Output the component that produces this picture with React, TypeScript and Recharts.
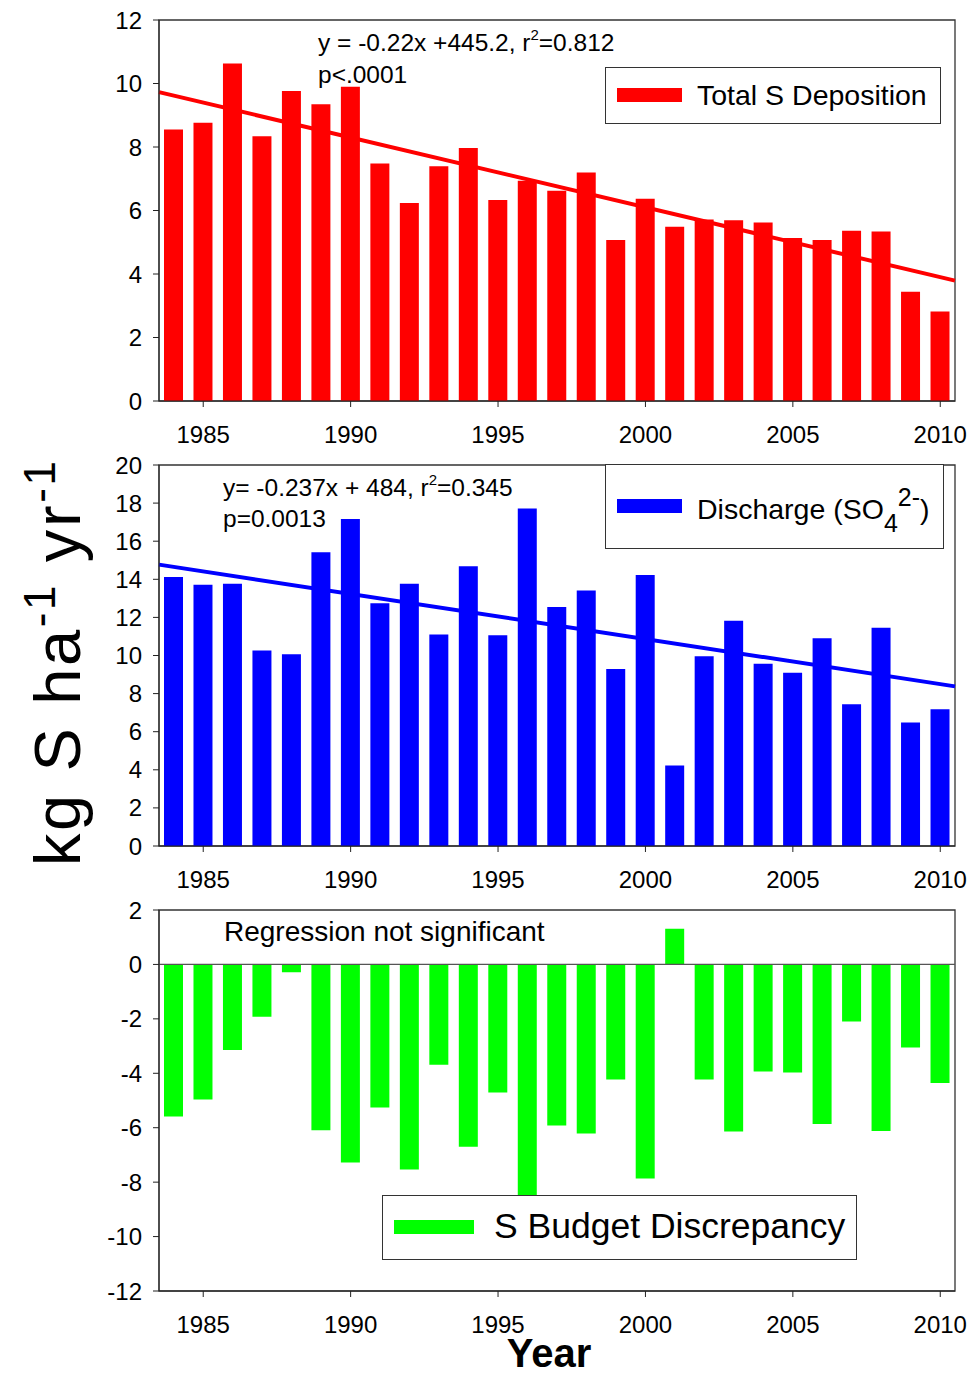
import React from "react";
import {
  ComposedChart,
  Bar,
  XAxis,
  YAxis,
  ReferenceLine,
  ReferenceArea,
  Legend,
} from "recharts";

// Annual sulfur budget, 1984–2010 (kg S ha-1 yr-1)
const years = [
  1984, 1985, 1986, 1987, 1988, 1989, 1990, 1991, 1992, 1993, 1994, 1995, 1996, 1997,
  1998, 1999, 2000, 2001, 2002, 2003, 2004, 2005, 2006, 2007, 2008, 2009, 2010,
];
const deposition = [
  8.55, 8.76, 10.63, 8.34, 9.76, 9.35, 9.9, 7.48, 6.24, 7.39, 7.97, 6.33, 6.94, 6.62,
  7.2, 5.07, 6.37, 5.49, 5.72, 5.69, 5.62, 5.13, 5.07, 5.36, 5.34, 3.44, 2.82,
];
const discharge = [
  14.12, 13.72, 13.77, 10.26, 10.06, 15.42, 17.17, 12.74, 13.77, 11.1, 14.68, 11.06, 17.71,
  12.55, 13.41, 9.29, 14.23, 4.22, 9.96, 11.83, 9.57, 9.1, 10.9, 7.44, 11.46, 6.48, 7.18,
];
const discrepancy = [
  -5.59, -4.96, -3.14, -1.92, -0.29, -6.09, -7.28, -5.26, -7.54, -3.69, -6.7, -4.71, -10.77,
  -5.92, -6.21, -4.23, -7.87, 1.31, -4.23, -6.14, -3.93, -3.97, -5.86, -2.1, -6.12, -3.05,
  -4.36,
];

const yearTicks = [1985, 1990, 1995, 2000, 2005, 2010];
const depositionTicks = [0, 2, 4, 6, 8, 10, 12];
const dischargeTicks = [0, 2, 4, 6, 8, 10, 12, 14, 16, 18, 20];
const discrepancyTicks = [-12, -10, -8, -6, -4, -2, 0, 2];

// regression lines, evaluated at the two ends of the year axis
const trendYears = [1983.5, 2010.5];
const depositionTrend = [9.73, 3.79];
const dischargeTrend = [14.77, 8.38];

const FONT = "'Liberation Sans', Arial, Helvetica, sans-serif";
const AXIS = "#222";
const W = 969;
const PLOT_H = 381;
const TOP_PAD = 20;

type Row = { year: number; value: number };

const rows = (values: number[]): Row[] => years.map((year, i) => ({ year, value: values[i] }));

function LegendBox({
  width,
  height,
  color,
  swatchWidth,
  gap,
  fontSize,
  textShift = 0,
  children,
}: {
  width: number;
  height: number;
  color: string;
  swatchWidth: number;
  gap: number;
  fontSize: number;
  textShift?: number;
  children: React.ReactNode;
}) {
  return (
    <div
      style={{
        boxSizing: "border-box",
        width,
        height,
        border: "1.5px solid #333",
        background: "#fff",
        display: "flex",
        alignItems: "center",
        paddingLeft: 11,
        fontFamily: FONT,
        color: "#000",
      }}
    >
      <div style={{ width: swatchWidth, height: 14, background: color, marginRight: gap }} />
      <span
        style={{
          fontSize,
          whiteSpace: "nowrap",
          lineHeight: 1,
          position: "relative",
          top: textShift,
        }}
      >
        {children}
      </span>
    </div>
  );
}

interface PanelProps {
  plotTop: number;
  values: number[];
  color: string;
  yTicks: number[];
  trend?: number[];
  zeroLine?: boolean;
  legend: { left: number; top: number; width: number; height: number; node: React.ReactNode };
}

function Panel({ plotTop, values, color, yTicks, trend, zeroLine, legend }: PanelProps) {
  const chartTop = plotTop - TOP_PAD;
  const yMin = yTicks[0];
  const yMax = yTicks[yTicks.length - 1];
  return (
    <div style={{ position: "absolute", left: 0, top: chartTop }}>
      <ComposedChart
        width={W}
        height={TOP_PAD + PLOT_H + 60}
        data={rows(values)}
        margin={{ top: TOP_PAD, right: 14, bottom: 10, left: 0 }}
      >
        <XAxis
          dataKey="year"
          type="number"
          domain={[trendYears[0], trendYears[1]]}
          ticks={yearTicks}
          allowDataOverflow
          height={50}
          tickSize={6}
          tickMargin={19}
          stroke={AXIS}
          tick={{ fill: "#000", fontSize: 24, fontFamily: FONT }}
        />
        <YAxis
          type="number"
          domain={[yMin, yMax]}
          ticks={yTicks}
          width={159}
          tickSize={6}
          tickMargin={11}
          stroke={AXIS}
          tick={{ fill: "#000", fontSize: 24, fontFamily: FONT }}
          interval={0}
        />
        <ReferenceArea
          x1={trendYears[0]}
          x2={trendYears[1]}
          y1={yMin}
          y2={yMax}
          fill="none"
          stroke="#333"
          strokeWidth={1.3}
        />
        <Bar dataKey="value" fill={color} barSize={19} isAnimationActive={false} />
        {zeroLine && <ReferenceLine y={0} stroke="#555" strokeWidth={1.2} />}
        {trend && (
          <ReferenceLine
            segment={[
              { x: trendYears[0], y: trend[0] },
              { x: trendYears[1], y: trend[1] },
            ]}
            stroke={color}
            strokeWidth={4}
          />
        )}
        <Legend
          verticalAlign="middle"
          align="center"
          wrapperStyle={{
            left: legend.left,
            top: legend.top - chartTop,
            width: legend.width,
            height: legend.height,
          }}
          content={() => legend.node}
        />
      </ComposedChart>
    </div>
  );
}

export default function App() {
  return (
    <div
      style={{
        position: "absolute",
        left: 0,
        top: 0,
        width: W,
        height: 1376,
        background: "#fff",
        fontFamily: FONT,
      }}
    >
      <Panel
        plotTop={19.5}
        values={deposition}
        color="#ff0000"
        yTicks={depositionTicks}
        trend={depositionTrend}
        legend={{
          left: 605,
          top: 66.7,
          width: 336,
          height: 57,
          node: (
            <LegendBox width={336} height={57} color="#ff0000" swatchWidth={65} gap={15} fontSize={28.5}>
              Total S Deposition
            </LegendBox>
          ),
        }}
      />
      <Panel
        plotTop={464.7}
        values={discharge}
        color="#0000ff"
        yTicks={dischargeTicks}
        trend={dischargeTrend}
        legend={{
          left: 605,
          top: 464,
          width: 339,
          height: 85,
          node: (
            <LegendBox
              width={339}
              height={85}
              color="#0000ff"
              swatchWidth={65}
              gap={15}
              fontSize={28.5}
              textShift={3}
            >
              Discharge (SO
              <span style={{ fontSize: 25, position: "relative", top: 13 }}>4</span>
              <span style={{ fontSize: 25, position: "relative", top: -13 }}>2-</span>)
            </LegendBox>
          ),
        }}
      />
      <Panel
        plotTop={909.7}
        values={discrepancy}
        color="#00ff00"
        yTicks={discrepancyTicks}
        zeroLine
        legend={{
          left: 382,
          top: 1194.7,
          width: 475,
          height: 65,
          node: (
            <LegendBox width={475} height={65} color="#00ff00" swatchWidth={80} gap={20} fontSize={35.5}>
              S Budget Discrepancy
            </LegendBox>
          ),
        }}
      />

      <svg
        width={W}
        height={1376}
        style={{ position: "absolute", left: 0, top: 0, pointerEvents: "none" }}
        fontFamily={FONT}
      >
        <text x={318} y={51} fontSize={24.5}>
          y = -0.22x +445.2, r<tspan fontSize={15} dy={-11}>2</tspan>
          <tspan dy={11}>=0.812</tspan>
        </text>
        <text x={318} y={83} fontSize={24.5}>
          p&lt;.0001
        </text>

        <text x={223} y={496} fontSize={24.5}>
          y= -0.237x + 484, r<tspan fontSize={15} dy={-11}>2</tspan>
          <tspan dy={11}>=0.345</tspan>
        </text>
        <text x={223} y={527} fontSize={24.5}>
          p=0.0013
        </text>

        <text x={224} y={941} fontSize={28}>
          Regression not significant
        </text>

        <text x={549} y={1367} fontSize={40} fontWeight="bold" textAnchor="middle">
          Year
        </text>

        <text
          transform="translate(80,866) rotate(-90)"
          fontSize={65}
          textLength={405}
          lengthAdjust="spacing"
        >
          kg S ha
          <tspan fontSize={44} dy={-25}>
            -1
          </tspan>
          <tspan dy={25}> yr</tspan>
          <tspan fontSize={44} dy={-25}>
            -1
          </tspan>
        </text>
      </svg>
    </div>
  );
}
